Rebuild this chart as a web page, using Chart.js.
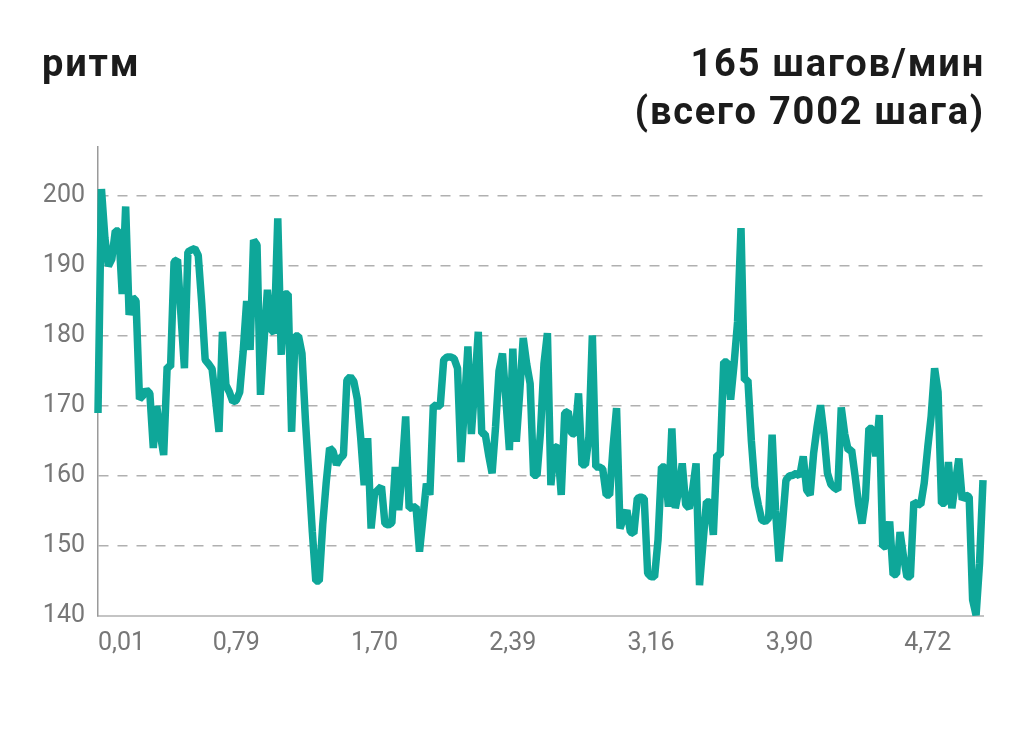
<!DOCTYPE html>
<html>
<head>
<meta charset="utf-8">
<script src="https://cdn.jsdelivr.net/npm/chart.js@4.4.0/dist/chart.umd.min.js"></script>
<style>
  html, body { margin: 0; padding: 0; background: #ffffff; width: 1024px; height: 738px; overflow: hidden; }
  #wrap { position: relative; width: 1024px; height: 738px; }
  canvas { position: absolute; left: 0; top: 0; }
  .title { position: absolute; font-family: Roboto, "Noto Sans", sans-serif; font-weight: 700; font-size: 38px; line-height: 48px; letter-spacing: 1.8px; color: #1b1b1b; white-space: nowrap; }
  #tl { left: 42px; top: 39px; }
  #tr { right: 39px; top: 39px; text-align: right; }
</style>
</head>
<body>
<div id="wrap">
  <canvas id="c" width="1024" height="738"></canvas>
  <div class="title" id="tl">ритм</div>
  <div class="title" id="tr">165 шагов/мин<br>(всего 7002 шага)</div>
</div>
<script>
// cadence (steps/min), one value per sample
const cadence = [
  169, 201, 194, 190, 191, 195, 195, 186, 198.5, 183,
  185.5, 185, 171, 171.5, 172.3, 171.8, 164, 170, 166, 163,
  175.6, 175.6, 190.6, 190.9, 183, 175.4, 192, 192.3, 192.5, 191.5,
  184.7, 176.6, 176, 175.3, 171, 166.3, 180.6, 173, 172, 170.6,
  170.8, 172, 177.8, 185, 178, 193.7, 193, 171.6, 179, 186.6,
  181, 180.4, 196.8, 177.3, 186, 186, 166.3, 180, 180, 177.5,
  168, 160, 152, 145, 145, 153, 159, 164, 163.5, 161.6,
  162.5, 163, 173.7, 174.2, 173.5, 171, 165.4, 158.7, 165.4, 152.5,
  157.5, 158, 158.5, 153.2, 153, 153.3, 161.3, 155.1, 161, 168.5,
  155.4, 155.5, 155.6, 149.2, 154, 158.9, 157.3, 170.1, 170, 170,
  176.6, 177, 177, 176.8, 175.4, 162, 170, 178.5, 166, 173,
  180.6, 166.1, 166, 163, 160.4, 167, 175, 177.5, 170.9, 163.7,
  178.2, 164.9, 172, 179.7, 176, 173.2, 160.1, 160.1, 166.3, 176,
  180.4, 158.7, 164.2, 164, 157.3, 169, 169.2, 166.1, 166, 171.8,
  161.6, 161.6, 165.6, 180.1, 161.3, 161.3, 161, 157.3, 157.3, 164.2,
  169.7, 152.5, 154, 155.1, 152, 151.8, 156.8, 157, 156.8, 146.1,
  145.6, 145.6, 150.9, 161.3, 161.3, 155.6, 166.8, 155.4, 158, 161.8,
  155.9, 155.4, 158, 161.8, 144.4, 150.4, 156.3, 156.3, 151.6, 163,
  163, 176.3, 176.3, 170.9, 176, 182, 195.4, 173.7, 173.7, 165,
  158.5, 155.9, 153.7, 153.5, 154, 165.9, 155, 147.8, 153.2, 159.4,
  160, 160.1, 160.4, 160, 162.8, 158, 157.3, 163.2, 167, 170.1,
  166, 160.4, 158.8, 158.3, 158, 169.8, 166, 163.7, 163.7, 160,
  156, 153.2, 156.8, 166.8, 166.8, 162.8, 168.7, 149.9, 150, 153.5,
  145.9, 146, 152, 148.5, 145.6, 145.6, 156.3, 156, 155.9, 159,
  164, 168.5, 175.4, 172, 156.1, 156.1, 162, 155.4, 159, 162.5,
  156.6, 157.3, 157, 142.3, 140.1, 147.5, 159.4
];
// distance labels (km) shown every 40 samples
const xTickLabels = ['0,01', '0,79', '1,70', '2,39', '3,16', '3,90', '4,72'];
const xTickEvery = 40;
const yTicks = [140, 150, 160, 170, 180, 190, 200];

const sampleIndex = cadence.map((_, i) => i);

const tickFont = { family: 'Roboto, "Noto Sans", sans-serif', size: 25, weight: '400' };

new Chart(document.getElementById('c'), {
  type: 'line',
  data: {
    labels: sampleIndex,
    datasets: [{
      data: cadence,
      borderColor: '#0ea799',
      borderWidth: 7.5,
      pointRadius: 0,
      tension: 0,
      fill: false,
      borderJoinStyle: 'bevel',
      borderCapStyle: 'butt',
      clip: false
    }]
  },
  options: {
    responsive: false,
    animation: false,
    devicePixelRatio: 1,
    layout: { padding: { top: 147, right: 41, bottom: 62, left: 0 } },
    plugins: { legend: { display: false }, tooltip: { enabled: false }, title: { display: false } },
    scales: {
      x: {
        type: 'category',
        offset: false,
        grid: { display: false, drawTicks: false },
        border: { display: true, color: '#c4c4c4', width: 2 },
        ticks: {
          autoSkip: false,
          maxRotation: 0,
          minRotation: 0,
          align: 'inner',
          padding: 13,
          color: '#777777',
          font: tickFont,
          callback: (v, i) => (i % xTickEvery === 0 && xTickLabels[i / xTickEvery] !== undefined) ? xTickLabels[i / xTickEvery] : ''
        },
        afterFit: s => { s.height = 60; }
      },
      y: {
        min: 140,
        max: 207,
        grid: { display: true, color: '#b0b0b0', lineWidth: 1.5, drawTicks: false },
        border: { display: true, color: '#9a9a9a', width: 1.5, dash: [10, 9] },
        ticks: {
          stepSize: 10,
          padding: 13,
          color: '#777777',
          font: tickFont
        },
        afterBuildTicks: s => { s.ticks = yTicks.map(v => ({ value: v })); },
        afterFit: s => { s.width = 98; }
      }
    }
  }
});
</script>
</body>
</html>
